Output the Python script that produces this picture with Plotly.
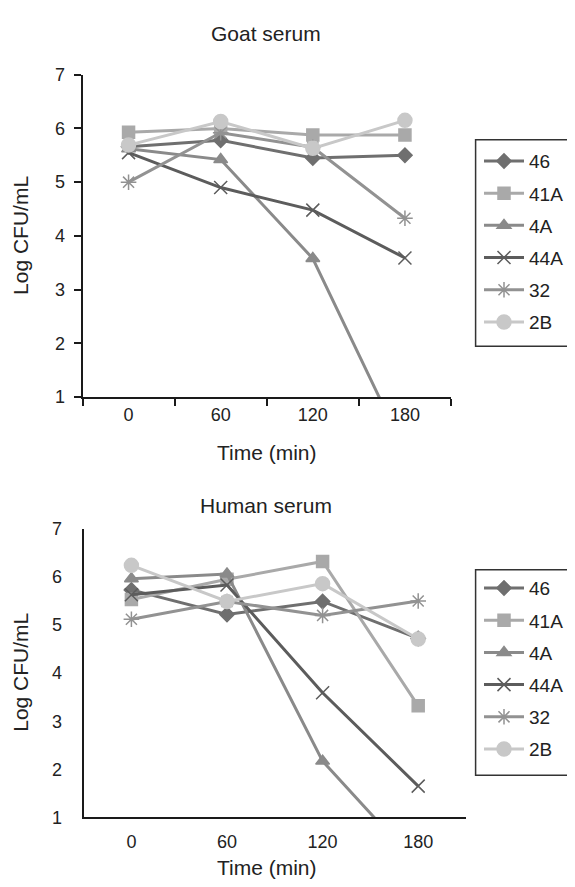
import plotly.graph_objects as go

times = ["0", "60", "120", "180"]
strains = ["46", "41A", "4A", "44A", "32", "2B"]

goat = {
    "46":  [5.66, 5.78, 5.45, 5.50],
    "41A": [5.93, 6.00, 5.88, 5.88],
    "4A":  [5.62, 5.42, 3.58, 0.0],
    "44A": [5.55, 4.90, 4.48, 3.59],
    "32":  [5.00, 5.92, 5.65, 4.33],
    "2B":  [5.69, 6.13, 5.63, 6.15],
}
human = {
    "46":  [5.73, 5.22, 5.49, 4.72],
    "41A": [5.53, 5.95, 6.32, 3.32],
    "4A":  [5.96, 6.06, 2.17, 0.0],
    "44A": [5.63, 5.83, 3.59, 1.65],
    "32":  [5.12, 5.49, 5.20, 5.50],
    "2B":  [6.24, 5.49, 5.86, 4.71],
}

colors = {"46": "#6f6f6f", "41A": "#a9a9a9", "4A": "#8a8a8a",
          "44A": "#5c5c5c", "32": "#929292", "2B": "#c8c8c8"}
symbols = {"46": "diamond", "41A": "square", "4A": "triangle-up",
           "44A": "x-thin-open", "32": "asterisk-open", "2B": "circle"}
msizes = {"46": 11, "41A": 12, "4A": 12, "44A": 13, "32": 13, "2B": 14}

FONT = "Liberation Sans, Arial, sans-serif"
TXT = "#222222"
OFF = 8            # page body margin
W, H = 575 - OFF, 887 - OFF

fig = go.Figure()

for panel, data, xa, ya, lg in [(1, goat, "x", "y", "legend"), (2, human, "x2", "y2", "legend2")]:
    for s in strains:
        fig.add_trace(go.Scatter(
            x=times, y=data[s], name=s, mode="lines+markers",
            xaxis=xa, yaxis=ya, legend=lg, legendgroup=f"{panel}-{s}",
            line=dict(color=colors[s], width=3),
            marker=dict(symbol=symbols[s], size=msizes[s], color=colors[s],
                        line=dict(color=colors[s], width=1.5)),
        ))

def px_x(p):
    return (p - OFF) / W

def px_y(p):
    return 1 - (p - OFF) / H

axis_common = dict(showline=True, linecolor="#1a1a1a", linewidth=2,
                   showgrid=False, zeroline=False,
                   tickfont=dict(family=FONT, size=18, color=TXT))

legend_common = dict(xanchor="left", yanchor="top", borderwidth=0,
                     bgcolor="rgba(0,0,0,0)",
                     font=dict(family=FONT, size=19, color=TXT),
                     traceorder="grouped", tracegroupgap=4.5, itemwidth=40)

fig.update_layout(
    width=W, height=H,
    margin=dict(l=0, r=0, t=0, b=0),
    paper_bgcolor="white", plot_bgcolor="white",
    font=dict(family=FONT, color=TXT),
    showlegend=True,
    xaxis=dict(domain=[px_x(82.5), px_x(451)], anchor="y", type="category",
               range=[-0.5, 3.5], ticks="outside", tickson="boundaries",
               ticklen=7, tickwidth=2, tickcolor="#1a1a1a", **axis_common),
    yaxis=dict(domain=[px_y(396), px_y(66)], anchor="x", range=[1, 7], dtick=1,
               ticks="outside", ticklen=7, tickwidth=2, tickcolor="#1a1a1a",
               ticklabelstandoff=5, **axis_common),
    xaxis2=dict(domain=[px_x(83.6), px_x(466)], anchor="y2", type="category",
                range=[-0.5, 3.5], ticks="outside", ticklen=7,
                tickcolor="rgba(0,0,0,0)", **axis_common),
    yaxis2=dict(domain=[px_y(826), px_y(530.7)], anchor="x2", range=[1, 7], dtick=1,
                ticks="outside", ticklen=8, tickcolor="rgba(0,0,0,0)",
                ticklabelstandoff=8, **axis_common),
    legend=dict(x=px_x(479), y=px_y(135), **legend_common),
    legend2=dict(x=px_x(479), y=px_y(572), **legend_common),
)

# legend frames (extend beyond the right edge as in the original)
for top, bot in [(132.7, 344), (572.7, 783)]:
    fig.add_shape(type="rect", xref="paper", yref="paper",
                  x0=px_x(475.6), x1=px_x(620), y0=px_y(bot), y1=px_y(top),
                  line=dict(color="#333333", width=1.5), fillcolor="rgba(0,0,0,0)",
                  layer="below")

ann = [
    dict(text="Goat serum", x=266, y=24, angle=0),
    dict(text="Time (min)", x=267, y=453, angle=0),
    dict(text="Log CFU/mL", x=21, y=231, angle=-90),
    dict(text="Human serum", x=266, y=507, angle=0),
    dict(text="Time (min)", x=267, y=877, angle=0),
    dict(text="Log CFU/mL", x=21, y=678, angle=-90),
]
for a in ann:
    fig.add_annotation(text=a["text"], x=px_x(a["x"]), y=px_y(a["y"]),
                       xref="paper", yref="paper",
                       xanchor="center", yanchor="middle", showarrow=False,
                       textangle=a["angle"],
                       font=dict(family=FONT, size=21, color=TXT))

fig.write_html("out.html")
